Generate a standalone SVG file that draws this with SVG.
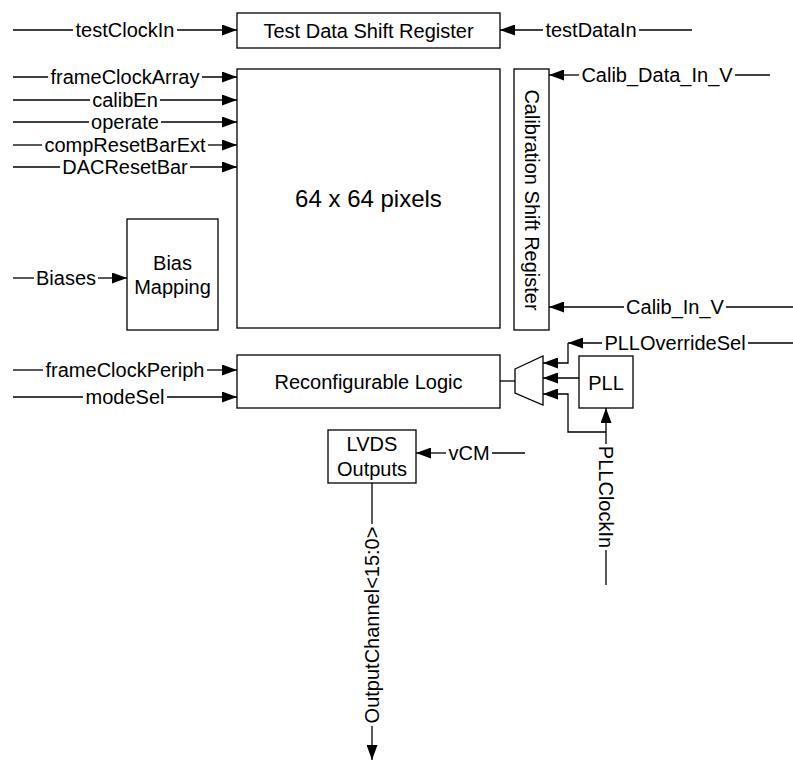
<svg xmlns="http://www.w3.org/2000/svg" width="793" height="762" viewBox="0 0 793 762">
<defs>
<marker id="ah" viewBox="0 0 15 11" refX="15" refY="5.5" markerWidth="15" markerHeight="11" markerUnits="userSpaceOnUse" orient="auto">
<path d="M0,0 L15,5.5 L0,11 z" fill="#000"/>
</marker>
</defs>
<style>
.box{fill:#fff;stroke:#000;stroke-width:1.3}
.ln{fill:none;stroke:#000;stroke-width:1.3}
.ar{fill:none;stroke:#000;stroke-width:1.3;marker-end:url(#ah)}
text{font-family:"Liberation Sans",Arial,sans-serif;font-size:20px;fill:#000}
.c{text-anchor:middle}
.big{font-size:24px}
</style>
<rect width="793" height="762" fill="#fff"/>

<g id="connectors">
<!-- testClockIn -->
<line class="ln" x1="13" y1="30" x2="73" y2="30"/>
<line class="ar" x1="177" y1="30" x2="237" y2="30"/>
<text class="c" x="125" y="37">testClockIn</text>
<!-- testDataIn -->
<line class="ln" x1="692" y1="30" x2="639" y2="30"/>
<line class="ar" x1="543" y1="30" x2="500" y2="30"/>
<text class="c" x="591" y="37">testDataIn</text>
<!-- frameClockArray -->
<line class="ln" x1="13" y1="77" x2="48" y2="77"/>
<line class="ar" x1="202" y1="77" x2="237" y2="77"/>
<text class="c" x="125" y="84">frameClockArray</text>
<!-- calibEn -->
<line class="ln" x1="13" y1="100" x2="90" y2="100"/>
<line class="ar" x1="160" y1="100" x2="237" y2="100"/>
<text class="c" x="125" y="107">calibEn</text>
<!-- operate -->
<line class="ln" x1="13" y1="122" x2="89" y2="122"/>
<line class="ar" x1="161" y1="122" x2="237" y2="122"/>
<text class="c" x="125" y="129">operate</text>
<!-- compResetBarExt -->
<line class="ln" x1="13" y1="145" x2="42" y2="145"/>
<line class="ar" x1="208" y1="145" x2="237" y2="145"/>
<text class="c" x="125" y="152">compResetBarExt</text>
<!-- DACResetBar -->
<line class="ln" x1="13" y1="167" x2="60" y2="167"/>
<line class="ar" x1="190" y1="167" x2="237" y2="167"/>
<text class="c" x="125" y="174">DACResetBar</text>
<!-- Biases -->
<line class="ln" x1="13" y1="278" x2="34" y2="278"/>
<line class="ar" x1="98" y1="278" x2="127" y2="278"/>
<text class="c" x="66" y="285">Biases</text>
<!-- frameClockPeriph -->
<line class="ln" x1="13" y1="370" x2="43" y2="370"/>
<line class="ar" x1="207" y1="370" x2="237" y2="370"/>
<text class="c" x="125" y="377">frameClockPeriph</text>
<!-- modeSel -->
<line class="ln" x1="13" y1="397" x2="83" y2="397"/>
<line class="ar" x1="167" y1="397" x2="237" y2="397"/>
<text class="c" x="125" y="404">modeSel</text>
<!-- Calib_Data_In_V -->
<line class="ln" x1="770" y1="75" x2="735" y2="75"/>
<line class="ar" x1="579" y1="75" x2="549" y2="75"/>
<text class="c" x="657" y="82">Calib_Data_In_V</text>
<!-- Calib_In_V -->
<line class="ln" x1="793" y1="307" x2="726" y2="307"/>
<line class="ar" x1="624" y1="307" x2="549" y2="307"/>
<text class="c" x="675" y="314">Calib_In_V</text>
<!-- PLLOverrideSel -->
<line class="ln" x1="793" y1="343" x2="748" y2="343"/>
<line class="ar" x1="602" y1="343" x2="568" y2="343"/>
<polyline class="ar" points="568,343 568,363 543,363"/>
<text class="c" x="675" y="350">PLLOverrideSel</text>
<!-- PLL to mux -->
<line class="ar" x1="579" y1="378" x2="543" y2="378"/>
<!-- bypass clock to mux -->
<polyline class="ar" points="606,432 568,432 568,394 543,394"/>
<!-- PLLClockIn -->
<line class="ln" x1="606" y1="585" x2="606" y2="550"/>
<line class="ar" x1="606" y1="444" x2="606" y2="408"/>
<text class="c" transform="translate(606,497) rotate(90)" x="0" y="7">PLLClockIn</text>
<!-- logic to mux -->
<line class="ln" x1="500" y1="381" x2="515" y2="381"/>
<!-- vCM -->
<line class="ln" x1="525" y1="453" x2="492" y2="453"/>
<line class="ar" x1="446" y1="453" x2="416" y2="453"/>
<text class="c" x="469" y="460">vCM</text>
<!-- OutputChannel -->
<line class="ln" x1="372" y1="483" x2="372" y2="524"/>
<line class="ar" x1="372" y1="726" x2="372" y2="760"/>
<text class="c" transform="translate(372,625) rotate(-90)" x="0" y="7">OutputChannel&lt;15:0&gt;</text>
</g>

<g id="testDataShiftRegister">
<rect class="box" x="237" y="13" width="263" height="35"/>
<text class="c" x="368.5" y="37.5">Test Data Shift Register</text>
</g>
<g id="pixelArray">
<rect class="box" x="237" y="69" width="263" height="259"/>
<text class="c big" x="368.5" y="207">64 x 64 pixels</text>
</g>
<g id="calibrationShiftRegister">
<rect class="box" x="514" y="69" width="35" height="261"/>
<text class="c" transform="translate(531.5,200) rotate(90)" x="0" y="7">Calibration Shift Register</text>
</g>
<g id="biasMapping">
<rect class="box" x="127" y="219" width="91" height="111"/>
<text class="c" x="172.5" y="270">Bias</text>
<text class="c" x="172.5" y="294">Mapping</text>
</g>
<g id="reconfigurableLogic">
<rect class="box" x="237" y="355" width="263" height="53"/>
<text class="c" x="368.5" y="388.5">Reconfigurable Logic</text>
</g>
<g id="mux">
<polygon class="box" points="515,369 543,356 543,405 515,393"/>
</g>
<g id="pll">
<rect class="box" x="579" y="356" width="54" height="52"/>
<text class="c" x="606" y="389.5">PLL</text>
</g>
<g id="lvdsOutputs">
<rect class="box" x="328" y="430" width="88" height="53"/>
<text class="c" x="372" y="450.5">LVDS</text>
<text class="c" x="372" y="476">Outputs</text>
</g>
</svg>
